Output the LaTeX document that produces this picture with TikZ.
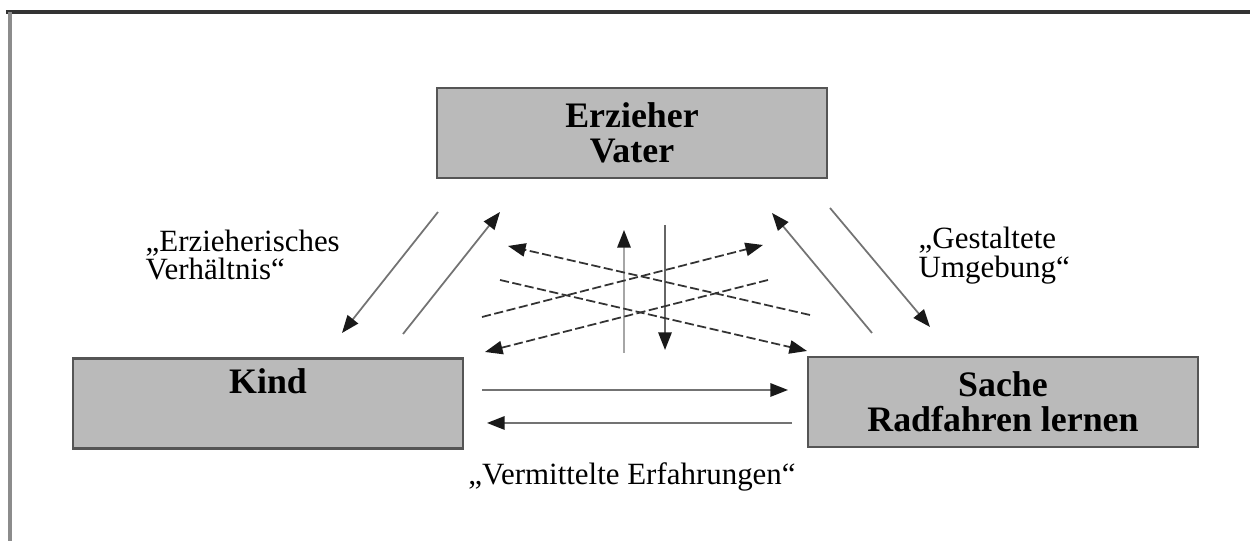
\documentclass[tikz,border=0pt]{standalone}
\usepackage{fontspec}
\setmainfont{Liberation Serif}
\usetikzlibrary{arrows.meta, positioning}
\definecolor{boxfill}{HTML}{BABABA}
\definecolor{boxline}{HTML}{555555}

\begin{document}
\begin{tikzpicture}[
  box/.style={draw=boxline, line width=0.8pt, fill=boxfill, align=center,
              minimum width=3.9cm, minimum height=0.9cm, inner sep=1pt,
              font=\fontsize{10.2}{10}\selectfont\bfseries},
  lbl/.style={align=left, inner sep=0pt, font=\fontsize{8.8}{8.2}\selectfont},
  rel/.style={-{Triangle[length=5pt,width=3.8pt,black!90]}, draw=black!55,
              line width=0.5pt},
  dline/.style={rel, draw=black!80, dash pattern=on 2.6pt off 1pt}]
  \useasboundingbox (0,0) rectangle (12.5,5.41);
  % frame of the page
  \draw[black!80, line width=1pt] (0.06,5.29) -- (12.5,5.29);
  \draw[black!45, line width=1pt] (0.10,5.29) -- (0.10,0);
  % the three corners
  \node[box] (erz)   at (6.32,4.08)  {Erzieher\\Vater};
  \node[box] (kind)  at (2.68,1.375) {Kind\\\strut};
  \node[box] (sache) at (10.03,1.39) {Sache\\Radfahren lernen};
  % labels
  \node[lbl, anchor=west] (lblev) at (1.45,2.86)
    {„Erzieherisches\\Verhältnis“};
  \node[lbl, anchor=west] (lblgu) at (9.18,2.85)
    {„Gestaltete\\Umgebung“};
  \node[lbl] (lblve) at (6.32,0.64) {„Vermittelte Erfahrungen“};
  % Erzieher - Kind
  \coordinate (ek1) at (4.38,3.29); \coordinate (ek2) at (3.42,2.08);
  \coordinate (ke1) at (4.03,2.07); \coordinate (ke2) at (5.00,3.29);
  \draw[rel] (ek1) -- (ek2);
  \draw[rel] (ke1) -- (ke2);
  % Erzieher - Sache
  \coordinate (se1) at (8.72,2.08); \coordinate (se2) at (7.72,3.28);
  \coordinate (es1) at (8.30,3.33); \coordinate (es2) at (9.30,2.14);
  \draw[rel] (se1) -- (se2);
  \draw[rel] (es1) -- (es2);
  % in the middle
  \coordinate (up1) at (6.24,1.88); \coordinate (up2) at (6.24,3.11);
  \coordinate (dn1) at (6.65,3.16); \coordinate (dn2) at (6.65,1.91);
  \draw[rel, draw=black!35] (up1) -- (up2);
  \draw[rel, draw=black!60] (dn1) -- (dn2);
  \coordinate (da1) at (8.10,2.26); \coordinate (da2) at (5.08,2.95);
  \coordinate (db1) at (5.00,2.61); \coordinate (db2) at (8.07,1.90);
  \coordinate (dc1) at (4.82,2.24); \coordinate (dc2) at (7.63,2.96);
  \coordinate (dd1) at (7.68,2.61); \coordinate (dd2) at (4.85,1.89);
  \draw[dline] (da1) -- (da2);
  \draw[dline] (db1) -- (db2);
  \draw[dline] (dc1) -- (dc2);
  \draw[dline] (dd1) -- (dd2);
  % Kind - Sache
  \coordinate (ks1) at (4.82,1.51); \coordinate (ks2) at (7.88,1.51);
  \coordinate (sk1) at (7.92,1.18); \coordinate (sk2) at (4.87,1.18);
  \draw[rel] (ks1) -- (ks2);
  \draw[rel] (sk1) -- (sk2);
\end{tikzpicture}
\end{document}
